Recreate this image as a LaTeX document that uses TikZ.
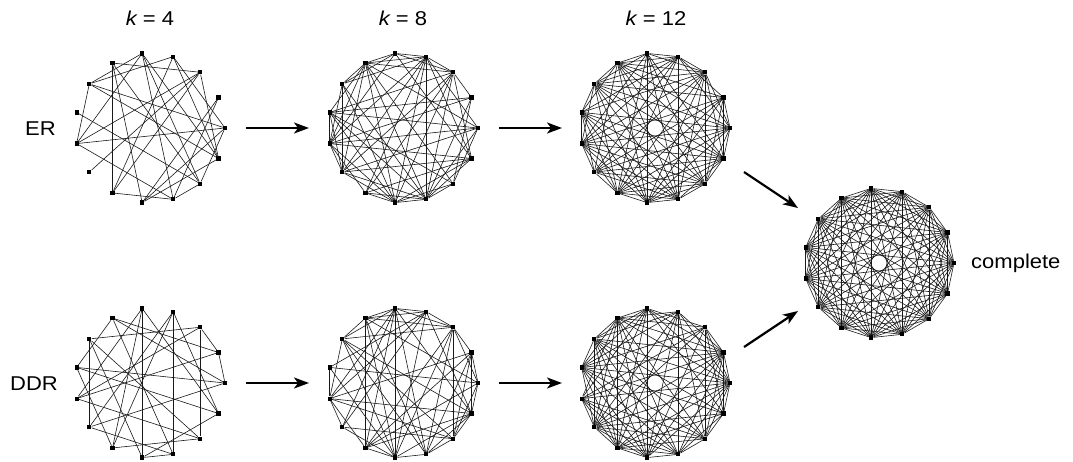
\documentclass[tikz,border=0pt]{standalone}
\usepackage{fontspec}
\setmainfont[FakeStretch=1.1]{Liberation Sans}
\usetikzlibrary{arrows.meta}
\tikzset{
  vert/.style={rectangle,fill=black,inner sep=0pt,minimum size=4.2pt},
  edge/.style={line width=0.6pt,draw=black!90},
  lab/.style={font=\fontsize{20}{24}\selectfont,inner sep=0pt},
  flow/.style={line width=2.2pt,-{Stealth[length=15pt,width=11pt,inset=4pt]}},
}
\newcommand\mkgraph[3]{%
  \foreach \i in {0,...,14}
    \node[vert] (#1-\i) at ({#2+75*cos(24*\i)},{#3-75*sin(24*\i)}) {};}
\newcommand\rndedges[3]{%
  \pgfmathsetseed{#2}%
  \foreach \i in {0,...,13}{%
    \pgfmathtruncatemacro\s{\i+1}%
    \foreach \j in {\s,...,14}{%
      \pgfmathtruncatemacro\r{rnd<#3}%
      \ifnum\r=1 \draw[edge] (#1-\i) -- (#1-\j);\fi
    }}}
\begin{document}
\begin{tikzpicture}[x=1pt,y=-1pt]
\useasboundingbox (0,0) rectangle (1073,461);
% labels
\node[lab] (k4) at (150,18) {{\itshape k} = 4};
\node[lab] (k8) at (403,18) {{\itshape k} = 8};
\node[lab] (k12) at (656,18) {{\itshape k} = 12};
\node[lab,anchor=east] (er) at (56,129) {ER};
\node[lab,anchor=east] (ddr) at (58,384) {DDR};
\node[lab,anchor=west] (cp) at (971,263) {complete};
% graphs
\mkgraph{er4}{150}{128}
\mkgraph{er8}{403}{128}
\mkgraph{er12}{655}{128}
\mkgraph{dd4}{150}{383}
\mkgraph{dd8}{403}{383}
\mkgraph{dd12}{655}{383}
\mkgraph{cpl}{879}{263}
% ER k=4
\foreach \a/\b in {5/10,0/6,0/8,7/13,2/9,2/14,1/12,1/11,4/12,4/13,3/6,0/3,11/14,12/13,2/5,5/11,4/8,6/8,6/14,3/10,2/8,4/14,0/13,5/13,10/12,4/6,3/14,2/10,8/12,0/11}
  \draw[edge] (er4-\a) -- (er4-\b);
% DDR k=4
\foreach \a/\b in {0/1,0/5,0/7,0/9,1/2,1/5,1/8,2/6,2/8,2/13,3/9,3/10,3/12,3/14,4/8,4/10,4/11,4/14,5/7,5/12,6/9,6/11,6/13,7/10,7/14,8/13,9/12,10/13,11/12,11/14}
  \draw[edge] (dd4-\a) -- (dd4-\b);
% random denser graphs
\rndedges{er8}{11}{0.57}
\rndedges{dd8}{23}{0.57}
\rndedges{er12}{37}{0.86}
\rndedges{dd12}{41}{0.86}
\rndedges{cpl}{5}{1.1}
% arrows
\coordinate (a1s) at (246,128); \coordinate (a1e) at (309,128);
\coordinate (a2s) at (499,128); \coordinate (a2e) at (562,128);
\coordinate (b1s) at (246,383); \coordinate (b1e) at (309,383);
\coordinate (b2s) at (499,383); \coordinate (b2e) at (562,383);
\coordinate (c1s) at (744,172); \coordinate (c1e) at (798,208);
\coordinate (c2s) at (744,347); \coordinate (c2e) at (798,311);
\draw[flow] (a1s) -- (a1e);
\draw[flow] (a2s) -- (a2e);
\draw[flow] (b1s) -- (b1e);
\draw[flow] (b2s) -- (b2e);
\draw[flow] (c1s) -- (c1e);
\draw[flow] (c2s) -- (c2e);
\end{tikzpicture}
\end{document}
